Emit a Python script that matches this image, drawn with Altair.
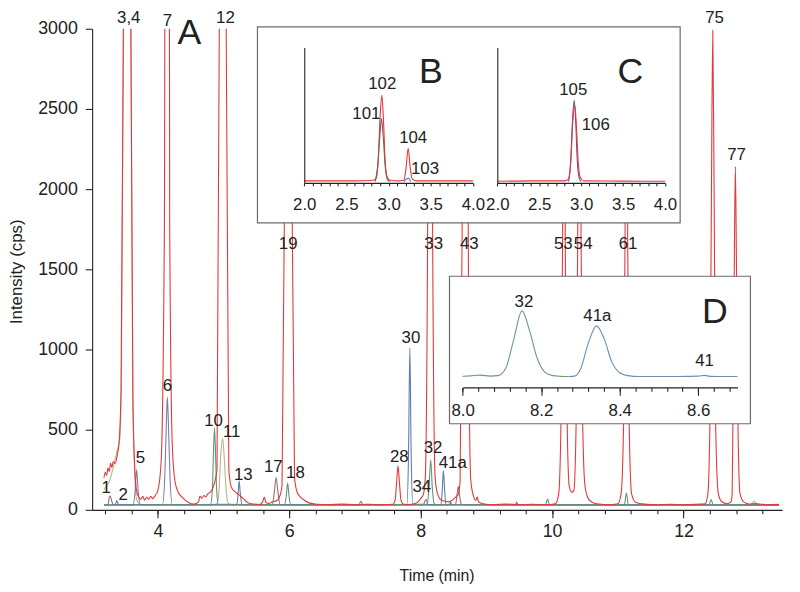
import altair as alt
import pandas as pd

FONT = "Liberation Sans"
INK = "#222222"

# ---------------- main chromatogram (time, intensity in cps) ----------------
RED_TRACE = [(3.18,200),(3.20,235),(3.22,215),(3.24,260),(3.26,240),(3.28,290),(3.30,265),(3.32,300),
    (3.35,290),(3.38,335),(3.41,420),(3.44,750),(3.475,2950),(3.53,14000),(3.59,2950),(3.62,700),
    (3.65,250),(3.68,110),(3.71,80),(3.74,65),(3.77,85),(3.80,60),(3.83,80),(3.86,65),(3.89,85),
    (3.92,70),(3.96,90),(4.00,120),(4.05,300),(4.10,1800),(4.14,16000),(4.18,1800),(4.22,400),
    (4.26,180),(4.31,110),(4.38,75),(4.46,48),(4.55,36),(4.62,50),(4.64,85),(4.67,72),(4.70,90),
    (4.73,80),(4.76,100),(4.80,110),(4.84,140),(4.90,250),(4.935,3000),(4.986,20000),(5.04,3000),
    (5.08,250),(5.12,140),(5.17,115),(5.23,95),(5.30,70),(5.37,45),(5.46,36),(5.55,33),(5.60,55),
    (5.62,80),(5.64,50),(5.68,40),(5.75,50),(5.82,60),(5.86,90),(5.89,150),(5.925,1800),(5.985,15000),
    (6.045,1800),(6.08,200),(6.12,110),(6.17,80),(6.23,60),(6.31,42),(6.42,35),(6.60,32),(6.80,36),
    (7.00,32),(7.20,35),(7.40,32),(7.58,35),(7.61,60),(7.635,180),(7.655,275),(7.675,180),(7.70,60),
    (7.73,36),(7.80,32),(7.90,38),(7.96,50),(8.00,70),(8.04,95),(8.07,200),(8.105,1700),(8.143,15000),
    (8.182,1700),(8.22,200),(8.25,110),(8.29,70),(8.35,55),(8.42,50),(8.48,60),(8.53,80),(8.57,95),
    (8.60,180),(8.63,1700),(8.677,15000),(8.724,1700),(8.76,200),(8.80,90),(8.84,60),(8.86,80),
    (8.88,50),(8.95,38),(9.10,32),(9.30,36),(9.50,32),(9.70,35),(9.90,32),(10.05,38),(10.10,100),
    (10.137,600),(10.16,1700),(10.18,6000),(10.20,1700),(10.227,600),(10.26,150),(10.30,110),
    (10.33,120),(10.368,600),(10.39,1700),(10.415,6000),(10.44,1700),(10.463,600),(10.50,150),
    (10.55,70),(10.62,45),(10.72,36),(10.85,32),(11.00,38),(11.05,100),(11.09,600),(11.11,1700),
    (11.13,6000),(11.15,1700),(11.17,600),(11.21,100),(11.27,48),(11.40,36),(11.60,32),(11.80,35),
    (12.00,32),(12.20,35),(12.33,38),(12.37,100),(12.40,500),(12.425,2000),(12.445,2990),(12.465,2000),
    (12.49,500),(12.53,100),(12.58,52),(12.66,38),(12.72,48),(12.74,100),(12.75,480),(12.772,1500),
    (12.789,2140),(12.806,1500),(12.83,480),(12.86,100),(12.92,48),(13.00,36),(13.10,40),(13.20,34),
    (13.30,32),(13.45,34)]

TAN_TRACE = [(3.18,125),(3.22,150),(3.26,175),(3.30,230),(3.34,300),(3.38,370),(3.42,440),(3.445,800),
    (3.475,2950),(3.53,14000),(3.59,2950),(3.62,700),(3.65,200),(3.68,60),(3.75,32),(4.00,30),
    (4.50,32),(4.88,34),(4.90,40),(4.93,120),(4.96,360),(4.986,444),(5.01,330),(5.04,120),(5.07,40),
    (5.12,32),(6.00,30),(8.00,32),(10.00,30),(12.00,32),(13.02,32),(13.06,50),(13.08,55),(13.11,35),
    (13.45,30)]

LAVENDER_TRACE = [(3.18,30),(3.62,30),(3.655,120),(3.677,252),(3.70,120),(3.73,32),(4.07,32),
    (4.105,200),(4.13,550),(4.144,702),(4.16,550),(4.185,200),(4.22,32),(6.00,30),(13.45,30)]

MAUVE_TRACE = [(3.18,30),(3.24,32),(3.262,80),(3.276,86),(3.295,60),(3.32,32),(5.74,32),(5.775,120),
    (5.80,202),(5.825,120),(5.86,32),(8.04,32),(8.07,60),(8.085,65),(8.11,32),(8.53,34),(8.555,100),
    (8.572,146),(8.59,95),(8.615,38),(8.64,32),(13.45,30)]

BLUE_TRACE = [(3.18,30),(3.35,32),(3.377,58),(3.40,32),(5.20,32),(5.222,100),(5.237,181),(5.255,100),
    (5.28,32),(7.79,32),(7.815,350),(7.835,1010),(7.855,350),(7.88,34),(8.31,32),(8.33,140),
    (8.346,245),(8.362,140),(8.385,32),(8.44,35),(8.455,50),(8.47,33),(9.44,32),(9.46,48),(9.48,32),
    (13.45,30)]

GREEN_TRACE = [(3.18,30),(4.80,32),(4.83,120),(4.846,350),(4.862,510),(4.878,350),(4.895,120),
    (4.92,35),(5.93,32),(5.955,90),(5.975,167),(5.995,90),(6.02,32),(7.06,32),(7.09,54),(7.12,32),
    (8.10,35),(8.125,130),(8.152,311),(8.178,130),(8.205,40),(8.23,32),(9.90,32),(9.93,68),(9.96,32),
    (11.10,32),(11.13,105),(11.16,32),(12.39,32),(12.42,64),(12.45,32),(13.45,30)]

MAIN_LABELS = ["1", "2", "3,4", "5", "6", "7", "10", "11", "12", "13", "17", "18", "19", "28", "30",
               "32", "34", "41a", "33", "43", "53", "54", "61", "75", "77"]
MAIN_LABEL_T = [3.215, 3.472, 3.557, 3.734, 4.145, 4.145, 4.848, 5.124, 5.029, 5.30, 5.757, 6.093,
                5.983, 7.675, 7.851, 8.187, 8.017, 8.488, 8.197, 8.74, 10.171, 10.472, 11.155,
                12.471, 12.807]
MAIN_LABEL_I = [136, 94, 3064, 321, 770, 3048, 551, 486, 3068, 218, 264, 228, 1660, 331, 1072, 383,
                140, 294, 1660, 1660, 1660, 1660, 1660, 3068, 2214]

MAIN_X_TICKS = [4, 6, 8, 10, 12]
MAIN_X_MINOR = [3.2, 3.6, 4.0, 4.4, 4.8, 5.2, 5.6, 6.0, 6.4, 6.8, 7.2, 7.6, 8.0, 8.4, 8.8, 9.2, 9.6,
                10.0, 10.4, 10.8, 11.2, 11.6, 12.0, 12.4, 12.8, 13.2]
MAIN_Y_TICKS = [0, 500, 1000, 1500, 2000, 2500, 3000]

# ---------------- inset B / C (retention time, relative response) ----------------
B_RED = [(2.0,1.5),(2.3,1.5),(2.6,1.5),(2.8,1.8),(2.85,3),(2.875,15),(2.90,50),(2.92,64.7),
         (2.94,45),(2.96,15),(2.985,4),(3.02,2),(3.12,1.5),(3.18,2),(3.205,10),(3.232,25.6),
         (3.255,12),(3.28,3),(3.33,1.5),(3.6,1.5),(4.0,1.5)]
B_DARK = [(2.84,1),(2.87,12),(2.90,38),(2.915,47.5),(2.935,35),(2.96,12),(2.99,2),(3.02,1)]
B_BLUE = [(3.18,1),(3.215,3),(3.235,3.5),(3.26,1)]
B_LABELS = ["102", "101", "104", "103"]
B_LABEL_T = [2.924, 2.736, 3.291, 3.432]
B_LABEL_I = [73.2, 51.2, 32.9, 10.5]

C_RED = [(2.0,1.2),(2.4,1.5),(2.8,1.5),(2.85,3),(2.875,15),(2.90,45),(2.925,57),(2.945,40),
         (2.965,15),(2.99,4),(3.03,1.5),(3.5,1.3),(4.0,1.2)]
C_DARK = [(2.85,1),(2.875,15),(2.90,50),(2.917,61),(2.935,45),(2.955,15),(2.98,3),(3.0,1)]
C_LABELS = ["105", "106"]
C_LABEL_T = [2.906, 3.174]
C_LABEL_I = [68.3, 42.7]

BC_TICKS = [2.0, 2.1, 2.2, 2.3, 2.4, 2.5, 2.6, 2.7, 2.8, 2.9, 3.0, 3.1, 3.2, 3.3, 3.4, 3.5, 3.6,
            3.7, 3.8, 3.9, 4.0]

# ---------------- inset D ----------------
D_GREEN = [(8.00,35),(8.02,37),(8.045,40),(8.07,36),(8.09,38),(8.11,70),(8.13,190),(8.151,311),
           (8.17,230),(8.19,110),(8.21,52),(8.23,38),(8.25,35),(8.27,34)]
D_BLUE = [(8.27,34),(8.285,36),(8.30,65),(8.32,175),(8.341,248),(8.36,195),(8.38,95),(8.40,50),
          (8.42,38),(8.45,34),(8.55,34),(8.60,36),(8.616,39),(8.63,35),(8.68,34),(8.70,34)]
D_LABELS = ["32", "41a", "41"]
D_LABEL_T = [8.156, 8.343, 8.616]
D_LABEL_I = [350, 290, 99]
D_TICKS = [8.0, 8.2, 8.4, 8.6]
D_MINOR = [8.0, 8.04, 8.08, 8.12, 8.16, 8.2, 8.24, 8.28, 8.32, 8.36, 8.4, 8.44, 8.48, 8.52, 8.56,
           8.6, 8.64, 8.68]

PANEL_LETTERS = ["A", "B", "C", "D"]

# ---------------- layout (plot-area pixels) ----------------
W, H = 697, 486


def df(trace):
    return pd.DataFrame(trace, columns=["t", "i"])


def lab(names, ts, iis):
    return pd.DataFrame({"label": names, "t": ts, "i": iis})


# main scales / axes
main_xs = alt.Scale(domain=[3.0, 13.5], nice=False, zero=False)
main_ys = alt.Scale(domain=[0, 3000], nice=False, zero=True)
main_xa = alt.Axis(values=MAIN_X_TICKS, format="d", tickSize=8, labelFontSize=18, labelPadding=5,
                   title="Time (min)", titleFontSize=16, titleFontWeight="normal",
                   titleX=348, titleY=66, titleBaseline="middle", grid=False, orient="bottom")
main_ya = alt.Axis(values=MAIN_Y_TICKS, format="d", tickSize=7, labelFontSize=18, labelPadding=8,
                   title="Intensity (cps)", titleFontSize=17, titleFontWeight="normal",
                   titleX=-76, titleY=245, titleBaseline="middle", grid=False, orient="left")


def main_line(trace, color):
    return alt.Chart(df(trace)).mark_line(color=color, strokeWidth=1.1, clip=True,
                                          interpolate="monotone").encode(
        x=alt.X("t:Q", scale=main_xs, axis=main_xa),
        y=alt.Y("i:Q", scale=main_ys, axis=main_ya))


RED = "#e5363a"
main_layer = alt.layer(
    main_line(TAN_TRACE, "#bdb38a"),
    main_line(LAVENDER_TRACE, "#8078aa"),
    main_line(MAUVE_TRACE, "#9b6a78"),
    main_line(BLUE_TRACE, "#5a7ea8"),
    main_line(GREEN_TRACE, "#62937a"),
    main_line(RED_TRACE, RED),
    alt.Chart(lab(MAIN_LABELS, MAIN_LABEL_T, MAIN_LABEL_I)).mark_text(
        font=FONT, fontSize=17, color=INK, baseline="middle").encode(
        x=alt.X("t:Q", scale=main_xs, axis=main_xa),
        y=alt.Y("i:Q", scale=main_ys, axis=main_ya), text="label:N"),
    alt.Chart(lab([PANEL_LETTERS[0]], [4.481], [2975])).mark_text(
        font=FONT, fontSize=36, color=INK, baseline="middle").encode(
        x=alt.X("t:Q", scale=main_xs, axis=main_xa),
        y=alt.Y("i:Q", scale=main_ys, axis=main_ya), text="label:N"),
)

main_minor = alt.Chart(pd.DataFrame({"t": MAIN_X_MINOR})).mark_point(opacity=0).encode(
    x=alt.X("t:Q", scale=main_xs,
            axis=alt.Axis(values=MAIN_X_MINOR, tickSize=4, labels=False, domain=False,
                          title="", grid=False, orient="bottom")))

frame_bc = alt.Chart(alt.Data(values=[{}])).mark_rect(
    fill="white", stroke="#6b6b6b", strokeWidth=1.2).encode(
    x=alt.value(167), x2=alt.value(594), y=alt.value(-2), y2=alt.value(196))

frame_d = alt.Chart(alt.Data(values=[{}])).mark_rect(
    fill="white", stroke="#6b6b6b", strokeWidth=1.2).encode(
    x=alt.value(361), x2=alt.value(665), y=alt.value(250), y2=alt.value(399))


def inset(x_range, traces, labels, letter, y_axis_offset):
    xs = alt.Scale(domain=[2.0, 4.0], range=x_range, nice=False, zero=False)
    ys = alt.Scale(domain=[0, 100], range=[155.7, 19], nice=False, zero=False)
    xa = alt.Axis(values=BC_TICKS, tickSize=3, labelFontSize=17, labelPadding=11,
                  labelExpr="indexof(['2.0','2.5','3.0','3.5','4.0'], format(datum.value, '.1f')) >= 0 ? format(datum.value, '.1f') : ''",
                  title="", grid=False, orient="bottom", offset=-330.3, zindex=1,
                  labelFlush=False, labelOverlap=False)
    ya = alt.Axis(ticks=False, labels=False, domain=True, title="", grid=False, orient="left",
                  offset=y_axis_offset, zindex=1)
    layers = []
    for tr, col in traces:
        layers.append(alt.Chart(df(tr)).mark_line(color=col, strokeWidth=1.1,
                                                  interpolate="monotone").encode(
            x=alt.X("t:Q", scale=xs, axis=xa), y=alt.Y("i:Q", scale=ys, axis=ya)))
    layers.append(alt.Chart(labels).mark_text(font=FONT, fontSize=17, color=INK,
                                              baseline="middle").encode(
        x=alt.X("t:Q", scale=xs, axis=xa), y=alt.Y("i:Q", scale=ys, axis=ya), text="label:N"))
    layers.append(alt.Chart(letter).mark_text(font=FONT, fontSize=36, color=INK,
                                              baseline="middle").encode(
        x=alt.X("t:Q", scale=xs, axis=xa), y=alt.Y("i:Q", scale=ys, axis=ya), text="label:N"))
    return alt.layer(*layers)


inset_b = inset([214.3, 384.7], [(B_RED, RED), (B_DARK, "#8a5a50"), (B_BLUE, "#5a7ea8")],
                lab(B_LABELS, B_LABEL_T, B_LABEL_I), lab([PANEL_LETTERS[1]], [3.5], [81.7]), -214.3)
inset_c = inset([409.3, 578.7], [(C_DARK, "#5a5a8a"), (C_RED, RED)],
                lab(C_LABELS, C_LABEL_T, C_LABEL_I), lab([PANEL_LETTERS[2]], [3.587], [81.7]), -409.3)

d_xs = alt.Scale(domain=[8.0, 8.7], range=[374.3, 652], nice=False, zero=False)
d_ys = alt.Scale(domain=[0, 400], range=[359.5, 263.7], nice=False, zero=False)
d_xa = alt.Axis(values=D_TICKS, format=".1f", tickSize=8, labelFontSize=17, labelPadding=7,
                title="", grid=False, orient="bottom", offset=-123.7, zindex=1,
                labelFlush=False)


def d_enc(ch):
    return ch.encode(x=alt.X("t:Q", scale=d_xs, axis=d_xa), y=alt.Y("i:Q", scale=d_ys, axis=None))


inset_d = alt.layer(
    d_enc(alt.Chart(df(D_GREEN)).mark_line(color="#6d9a80", strokeWidth=1.1, interpolate="monotone")),
    d_enc(alt.Chart(df(D_BLUE)).mark_line(color="#6a8fb0", strokeWidth=1.1, interpolate="monotone")),
    d_enc(alt.Chart(lab(D_LABELS, D_LABEL_T, D_LABEL_I)).mark_text(
        font=FONT, fontSize=17, color=INK, baseline="middle")).encode(text="label:N"),
    d_enc(alt.Chart(lab([PANEL_LETTERS[3]], [8.642], [307])).mark_text(
        font=FONT, fontSize=36, color=INK, baseline="middle")).encode(text="label:N"),
)

d_minor = alt.Chart(pd.DataFrame({"t": D_MINOR})).mark_point(opacity=0).encode(
    x=alt.X("t:Q", scale=d_xs,
            axis=alt.Axis(values=D_MINOR, tickSize=4, labels=False, domain=False, title="",
                          grid=False, orient="bottom", offset=-123.7, zindex=1)))

chart = alt.layer(
    main_layer, main_minor, frame_bc, inset_b, inset_c, frame_d, inset_d, d_minor
).resolve_scale(
    x="independent", y="independent"
).properties(
    width=W, height=H,
    autosize=alt.AutoSizeParams(type="none"),
    padding={"left": 85, "top": 18, "right": 10, "bottom": 80},
).configure_view(
    stroke=None
).configure_axis(
    labelFont=FONT, titleFont=FONT, labelColor=INK, titleColor=INK,
    domainColor=INK, tickColor=INK, domainWidth=1.1, tickWidth=1.1
)

chart.save("out.html", embed_options={"renderer": "svg", "actions": False})
